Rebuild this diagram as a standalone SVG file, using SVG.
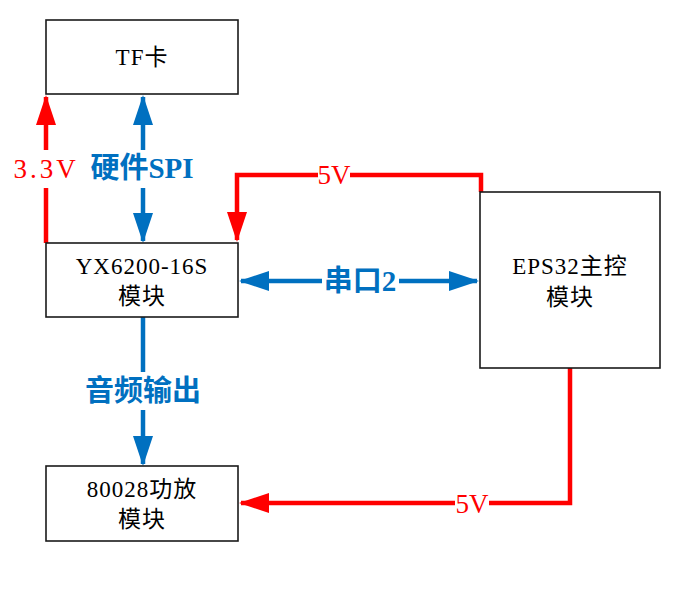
<svg xmlns="http://www.w3.org/2000/svg" width="677" height="594" viewBox="0 0 677 594">
<style>
.box{fill:#fff;stroke:#1a1a1a;stroke-width:1.6}
.t{font-family:"Liberation Serif","Noto Sans CJK SC",serif;font-size:23px;fill:#000;text-anchor:middle;letter-spacing:1px}
.red{fill:none;stroke:#FF0000;stroke-width:4.5}
.blue{fill:none;stroke:#0070C0;stroke-width:4.5}
.lr{font-family:"Liberation Serif","Noto Sans CJK SC",serif;font-size:27px;fill:#FF0000;text-anchor:middle}
.lb{font-family:"Liberation Serif","Noto Sans CJK SC",serif;font-size:29px;font-weight:bold;fill:#0070C0;text-anchor:middle}
</style>
<defs>
<marker id="ar" markerUnits="userSpaceOnUse" markerWidth="30" markerHeight="22" refX="28" refY="10" orient="auto" viewBox="0 0 30 20"><path d="M0,0 L30,10 L0,20 Z" fill="#FF0000"/></marker>
<marker id="ab" markerUnits="userSpaceOnUse" markerWidth="30" markerHeight="22" refX="28" refY="10" orient="auto" viewBox="0 0 30 20"><path d="M0,0 L30,10 L0,20 Z" fill="#0070C0"/></marker>
</defs>
<rect width="677" height="594" fill="#fff"/>
<g id="connectors">
<path class="red" d="M46,243 V188"/>
<path class="red" d="M46,150 V97" marker-end="url(#ar)"/>
<text class="lr" x="46" y="178" letter-spacing="3">3.3V</text>
<path class="blue" d="M143,150 V97" marker-end="url(#ab)"/>
<path class="blue" d="M143,188 V241" marker-end="url(#ab)"/>
<text class="lb" x="142" y="178">硬件SPI</text>
<path class="red" d="M318,175 H237 V240" marker-end="url(#ar)"/>
<path class="red" d="M350,175 H481 V192"/>
<text class="lr" x="334" y="184">5V</text>
<path class="blue" d="M322,281 H241" marker-end="url(#ab)"/>
<path class="blue" d="M399,281 H477" marker-end="url(#ab)"/>
<text class="lb" x="360" y="291">串口2</text>
<path class="blue" d="M143,317 V372"/>
<path class="blue" d="M143,410 V464" marker-end="url(#ab)"/>
<text class="lb" x="143" y="401">音频输出</text>
<path class="red" d="M570,368 V503 H489"/>
<path class="red" d="M455,503 H241" marker-end="url(#ar)"/>
<text class="lr" x="472" y="513">5V</text>
</g>
<g id="tf"><rect class="box" x="46" y="20" width="192" height="74"/><text class="t" x="142" y="65">TF卡</text></g>
<g id="yx"><rect class="box" x="46" y="243" width="192" height="74"/><text class="t" x="142" y="274">YX6200-16S</text><text class="t" x="142" y="304">模块</text></g>
<g id="amp"><rect class="box" x="46" y="466" width="192" height="75"/><text class="t" x="142" y="497">80028功放</text><text class="t" x="142" y="527">模块</text></g>
<g id="esp"><rect class="box" x="480" y="192" width="180" height="176"/><text class="t" x="570" y="274">EPS32主控</text><text class="t" x="570" y="305">模块</text></g>
</svg>
